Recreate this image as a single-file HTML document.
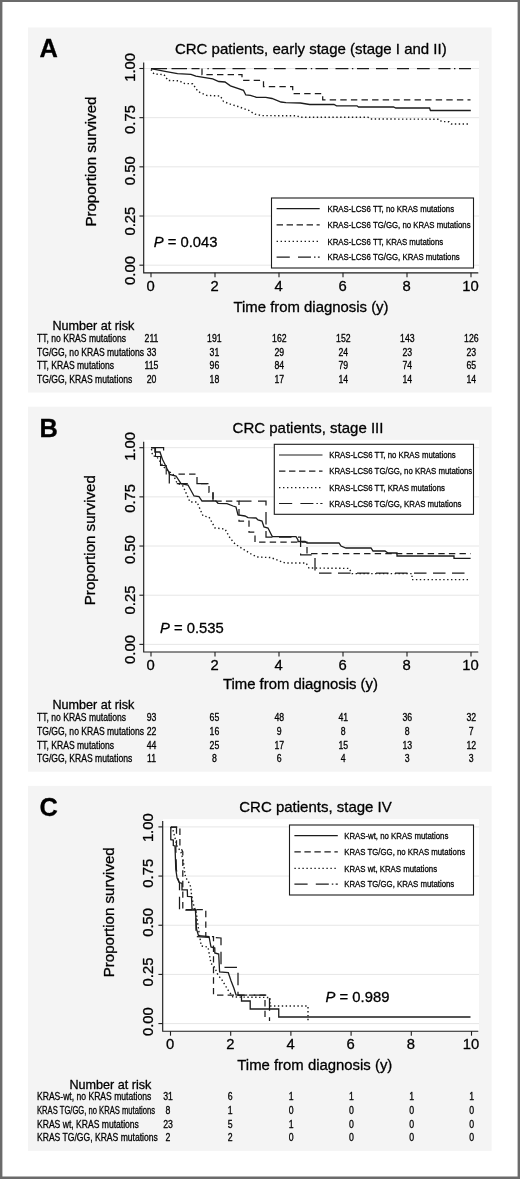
<!DOCTYPE html>
<html lang="en"><head><meta charset="utf-8"><title>Figure</title>
<style>html,body{margin:0;padding:0;background:#fff}body{width:520px;height:1179px;overflow:hidden}svg{display:block}text{fill:#000;stroke:#000;stroke-width:0.3px;stroke-linejoin:round}</style>
</head><body>
<svg width="520" height="1179" viewBox="0 0 520 1179" font-family='"Liberation Sans", sans-serif'>
<rect x="0" y="0" width="520" height="1179" fill="#fff"/>
<path d="M0,0 H520 V1179 H0 Z M2.4,2.1 V1176.4 H517.6 V2.1 Z" fill="#6b6b6b" fill-rule="evenodd"/>
<g id="panel-A">
<rect x="28" y="27.5" width="463.6" height="365" fill="#f4f4f4"/>
<rect x="144" y="60.7" width="335" height="212.1" fill="#fff"/>
<path d="M144,68.5 H479" stroke="#e6e6e6" stroke-width="1"/>
<path d="M144,117.67 H479" stroke="#e6e6e6" stroke-width="1"/>
<path d="M144,166.84 H479" stroke="#e6e6e6" stroke-width="1"/>
<path d="M144,216.01 H479" stroke="#e6e6e6" stroke-width="1"/>
<path d="M144,265.18 H479" stroke="#e6e6e6" stroke-width="1"/>
<path d="M151,68.5 H167 M171.5,68.5 H187 M191.5,68.5 H199.5 M207.4,68.5 H208.8 M212.5,68.5 H225.5 M232.5,68.5 H245.5 M254,68.5 H266.5 M274,68.5 H285.7 M295.3,68.5 H307 M310.8,68.5 H312.2 M315.5,68.5 H328 M335.5,68.5 H348.4 M351.9,68.5 H353.3 M357,68.5 H369 M376,68.5 H388 M397,68.5 H409 M417,68.5 H429.7 M438.4,68.5 H450.5 M454,68.5 H455.4 M459,68.5 H471" fill="none" stroke="#1c1c1c" stroke-width="1.25"/>
<path d="M202,68.5 V74.7 H242 V80.4 H263.5 V86.5 H292.7 V93.5 H322.7 V99.8 H470.5 V99.8" fill="none" stroke="#1c1c1c" stroke-width="1.25" stroke-dasharray="6.4 4.2"/>
<path d="M151,68.7 L165,71.3 L177.5,73.7 L191,74.3 L195.8,76.2 L212.7,78.8 L218.8,81.5 L225,82 L230.4,85.8 L243.5,90.4 L245.8,95 L250.4,95.3 L256.5,97.3 L265.8,97.3 L272,98.5 L281,102 L285.8,102.7 L300.4,103 L309.6,104.5 L334,104.5 L336.5,105.8 L357,105.8 L358.5,107 L393.5,107 L395.8,108 L429.6,108 L430.4,110.5 L470.8,110.5" fill="none" stroke="#1c1c1c" stroke-width="1.3"/>
<path d="M151,69.5 L154,74 L164,74.6 L168,80.5 L179.6,80.8 L183.5,83.4 L192.7,83.8 L198,91.5 L206.5,95.4 L220.4,96 L223.5,101.5 L230.4,104.2 L238,106.5 L248.8,110.4 L255,114.2 L262,115.6 L297,115.8 L300.4,117.3 L368,117.3 L370.4,119 L439.2,119.2 L441.5,121.5 L449,121.8 L451.5,124 L469.5,124" fill="none" stroke="#1c1c1c" stroke-width="1.4" stroke-dasharray="1.4 2.5"/>
<rect x="271.5" y="198" width="202" height="70" fill="#fff" stroke="#1c1c1c" stroke-width="1.1"/>
<path d="M276.6,208.7 H319.7" stroke="#1c1c1c" stroke-width="1.2"/>
<text transform="translate(327.5,211.9) scale(0.79,1)" font-size="9.9" text-anchor="start">KRAS-LCS6 TT, no KRAS mutations</text>
<path d="M276.6,224.8 H319.7" stroke="#1c1c1c" stroke-width="1.2" stroke-dasharray="6.4 3.6"/>
<text transform="translate(327.5,228) scale(0.79,1)" font-size="9.9" text-anchor="start">KRAS-LCS6 TG/GG, no KRAS mutations</text>
<path d="M276.6,241.3 H319.7" stroke="#1c1c1c" stroke-width="1.2" stroke-dasharray="1.4 2.6"/>
<text transform="translate(327.5,244.5) scale(0.79,1)" font-size="9.9" text-anchor="start">KRAS-LCS6 TT, KRAS mutations</text>
<path d="M276.6,257.2 h13.2 m8.2,0 h13 m3,0 h1.5 m2.4,0 h1.8" stroke="#1c1c1c" stroke-width="1.2"/>
<text transform="translate(327.5,260.4) scale(0.79,1)" font-size="9.9" text-anchor="start">KRAS-LCS6 TG/GG, KRAS mutations</text>
<path d="M143.7,62.6 V272.8 H478.3" fill="none" stroke="#1c1c1c" stroke-width="1.15"/>
<path d="M139.4,68.5 H143.7" stroke="#1c1c1c" stroke-width="1.1"/>
<path d="M139.4,117.67 H143.7" stroke="#1c1c1c" stroke-width="1.1"/>
<path d="M139.4,166.84 H143.7" stroke="#1c1c1c" stroke-width="1.1"/>
<path d="M139.4,216.01 H143.7" stroke="#1c1c1c" stroke-width="1.1"/>
<path d="M139.4,265.18 H143.7" stroke="#1c1c1c" stroke-width="1.1"/>
<path d="M151,272.8 V277.3" stroke="#1c1c1c" stroke-width="1.1"/>
<text transform="translate(150.6,290.8)" font-size="14.8" text-anchor="middle">0</text>
<path d="M215,272.8 V277.3" stroke="#1c1c1c" stroke-width="1.1"/>
<text transform="translate(214.6,290.8)" font-size="14.8" text-anchor="middle">2</text>
<path d="M279,272.8 V277.3" stroke="#1c1c1c" stroke-width="1.1"/>
<text transform="translate(278.6,290.8)" font-size="14.8" text-anchor="middle">4</text>
<path d="M343,272.8 V277.3" stroke="#1c1c1c" stroke-width="1.1"/>
<text transform="translate(342.6,290.8)" font-size="14.8" text-anchor="middle">6</text>
<path d="M407,272.8 V277.3" stroke="#1c1c1c" stroke-width="1.1"/>
<text transform="translate(406.6,290.8)" font-size="14.8" text-anchor="middle">8</text>
<path d="M471,272.8 V277.3" stroke="#1c1c1c" stroke-width="1.1"/>
<text transform="translate(470.6,290.8)" font-size="14.8" text-anchor="middle">10</text>
<text transform="translate(135.4,67.4) rotate(-90)" font-size="14.8" text-anchor="middle">1.00</text>
<text transform="translate(135.4,119.47) rotate(-90)" font-size="14.8" text-anchor="middle">0.75</text>
<text transform="translate(135.4,170.74) rotate(-90)" font-size="14.8" text-anchor="middle">0.50</text>
<text transform="translate(135.4,221.11) rotate(-90)" font-size="14.8" text-anchor="middle">0.25</text>
<text transform="translate(135.4,270.48) rotate(-90)" font-size="14.8" text-anchor="middle">0.00</text>
<text transform="translate(95.8,161.6) rotate(-90)" font-size="15.1" text-anchor="middle">Proportion survived</text>
<text transform="translate(311,311.9)" font-size="14.9" text-anchor="middle">Time from diagnosis (y)</text>
<text transform="translate(310.8,53.9)" font-size="15" text-anchor="middle">CRC patients, early stage (stage I and II)</text>
<text transform="translate(39.6,57.3)" font-size="25.4" text-anchor="start" font-weight="bold">A</text>
<text transform="translate(153.7,247)" font-size="14.8" text-anchor="start"><tspan font-style="italic">P</tspan> = 0.043</text>
<text transform="translate(52.5,330.2)" font-size="12.6" text-anchor="start">Number at risk</text>
<text transform="translate(37,342) scale(0.81,1)" font-size="10.6" text-anchor="start">TT, no KRAS mutations</text>
<text transform="translate(151.5,342) scale(0.84,1)" font-size="10.4" text-anchor="middle">211</text>
<text transform="translate(214.4,342) scale(0.84,1)" font-size="10.4" text-anchor="middle">191</text>
<text transform="translate(279.3,342) scale(0.84,1)" font-size="10.4" text-anchor="middle">162</text>
<text transform="translate(343.3,342) scale(0.84,1)" font-size="10.4" text-anchor="middle">152</text>
<text transform="translate(407.3,342) scale(0.84,1)" font-size="10.4" text-anchor="middle">143</text>
<text transform="translate(471.3,342) scale(0.84,1)" font-size="10.4" text-anchor="middle">126</text>
<text transform="translate(37,355.7) scale(0.81,1)" font-size="10.6" text-anchor="start">TG/GG, no KRAS mutations</text>
<text transform="translate(151.5,355.7) scale(0.84,1)" font-size="10.4" text-anchor="middle">33</text>
<text transform="translate(214.4,355.7) scale(0.84,1)" font-size="10.4" text-anchor="middle">31</text>
<text transform="translate(279.3,355.7) scale(0.84,1)" font-size="10.4" text-anchor="middle">29</text>
<text transform="translate(343.3,355.7) scale(0.84,1)" font-size="10.4" text-anchor="middle">24</text>
<text transform="translate(407.3,355.7) scale(0.84,1)" font-size="10.4" text-anchor="middle">23</text>
<text transform="translate(471.3,355.7) scale(0.84,1)" font-size="10.4" text-anchor="middle">23</text>
<text transform="translate(37,369.4) scale(0.81,1)" font-size="10.6" text-anchor="start">TT, KRAS mutations</text>
<text transform="translate(151.5,369.4) scale(0.84,1)" font-size="10.4" text-anchor="middle">115</text>
<text transform="translate(214.4,369.4) scale(0.84,1)" font-size="10.4" text-anchor="middle">96</text>
<text transform="translate(279.3,369.4) scale(0.84,1)" font-size="10.4" text-anchor="middle">84</text>
<text transform="translate(343.3,369.4) scale(0.84,1)" font-size="10.4" text-anchor="middle">79</text>
<text transform="translate(407.3,369.4) scale(0.84,1)" font-size="10.4" text-anchor="middle">74</text>
<text transform="translate(471.3,369.4) scale(0.84,1)" font-size="10.4" text-anchor="middle">65</text>
<text transform="translate(37,383) scale(0.81,1)" font-size="10.6" text-anchor="start">TG/GG, KRAS mutations</text>
<text transform="translate(151.5,383) scale(0.84,1)" font-size="10.4" text-anchor="middle">20</text>
<text transform="translate(214.4,383) scale(0.84,1)" font-size="10.4" text-anchor="middle">18</text>
<text transform="translate(279.3,383) scale(0.84,1)" font-size="10.4" text-anchor="middle">17</text>
<text transform="translate(343.3,383) scale(0.84,1)" font-size="10.4" text-anchor="middle">14</text>
<text transform="translate(407.3,383) scale(0.84,1)" font-size="10.4" text-anchor="middle">14</text>
<text transform="translate(471.3,383) scale(0.84,1)" font-size="10.4" text-anchor="middle">14</text>
</g>
<g id="panel-B">
<rect x="28" y="406.7" width="463.6" height="365" fill="#f4f4f4"/>
<rect x="144" y="439.9" width="335" height="212.1" fill="#fff"/>
<path d="M144,447.7 H479" stroke="#e6e6e6" stroke-width="1"/>
<path d="M144,496.87 H479" stroke="#e6e6e6" stroke-width="1"/>
<path d="M144,546.04 H479" stroke="#e6e6e6" stroke-width="1"/>
<path d="M144,595.21 H479" stroke="#e6e6e6" stroke-width="1"/>
<path d="M144,644.38 H479" stroke="#e6e6e6" stroke-width="1"/>
<path d="M151,447.6 L154.9,447.6 L154.9,452 L160,452 L161,455 L162.4,459.3 L165.3,465 L167,468.5 L168.8,472 L169.6,474.5 L176,476 L181,483.6 L188,485 L194,496 L199,496.6 L202,501 L216,501 L218,503.3 L227,503.6 L233,506 L236,507 L238,515 L245,516 L248,517.6 L256,518 L258,520 L262,521 L264,527 L268,528 L272,536 L273,536.6 L296,536.6 L298,540 L298,541.5 L305,541.5 L307,543 L339,543 L341,546 L346,548 L371,548 L373,551 L385,551 L388,553 L397,553 L397,556 L454,556 L454,558.4 L470.6,558.4" fill="none" stroke="#1c1c1c" stroke-width="1.3"/>
<path d="M151,447.6 L155.5,447.6 L155.5,456.5 L160.5,456.5 L160.5,465.5 L166.2,465.5 L166.2,474.4" fill="none" stroke="#1c1c1c" stroke-width="1.1"/>
<path d="M178.5,474.2 L197,474.2 L197,483.6 L209,483.6 L209,492.4 L213,492.4 L213,501 L239,501 L239,521 L249,521 L249,532 L255,532 L255,542 L307,542 L307,553.6 L470.6,553.6" fill="none" stroke="#1c1c1c" stroke-width="1.25" stroke-dasharray="6.4 4.2"/>
<path d="M151,447.6 H163.6 V450.5 M169.3,471.5 V483.6 M176.8,483.6 H187.8 M196.4,483.6 H208.5 M213,492 V501" fill="none" stroke="#1c1c1c" stroke-width="1.25"/>
<path d="M239,501 L266,501 L266,537 L300.6,537 L300.6,554.8 L315,554.8 L315,573 L470.6,573" fill="none" stroke="#1c1c1c" stroke-width="1.25" stroke-dasharray="12.5 6.5"/>
<path d="M151.5,449 L152.5,455.5 L157,457 L159,460 L163,466 L168,471 L173,474 L177,483 L183,486 L190,502 L197,502 L203,516 L209,517 L215,528 L225,529 L230,538 L235,544 L243,549 L251,554 L257,557 L271,557.6 L285,563 L306,563 L309,568 L349,568.4 L352,573.6 L412,573.6 L412,579.6 L470,579.6" fill="none" stroke="#1c1c1c" stroke-width="1.4" stroke-dasharray="1.4 2.5"/>
<rect x="274.3" y="444.3" width="199.2" height="70" fill="#fff" stroke="#1c1c1c" stroke-width="1.1"/>
<path d="M279,455 H322.5" stroke="#1c1c1c" stroke-width="1.2"/>
<text transform="translate(329.2,458.2) scale(0.79,1)" font-size="9.9" text-anchor="start">KRAS-LCS6 TT, no KRAS mutations</text>
<path d="M279,471.1 H322.5" stroke="#1c1c1c" stroke-width="1.2" stroke-dasharray="6.4 3.6"/>
<text transform="translate(329.2,474.3) scale(0.79,1)" font-size="9.9" text-anchor="start">KRAS-LCS6 TG/GG, no KRAS mutations</text>
<path d="M279,487.6 H322.5" stroke="#1c1c1c" stroke-width="1.2" stroke-dasharray="1.4 2.6"/>
<text transform="translate(329.2,490.8) scale(0.79,1)" font-size="9.9" text-anchor="start">KRAS-LCS6 TT, KRAS mutations</text>
<path d="M279,503.5 h13.2 m8.2,0 h13 m3,0 h1.5 m2.4,0 h2.2" stroke="#1c1c1c" stroke-width="1.2"/>
<text transform="translate(329.2,506.7) scale(0.79,1)" font-size="9.9" text-anchor="start">KRAS-LCS6 TG/GG, KRAS mutations</text>
<path d="M143.7,441.8 V652 H478.3" fill="none" stroke="#1c1c1c" stroke-width="1.15"/>
<path d="M139.4,447.7 H143.7" stroke="#1c1c1c" stroke-width="1.1"/>
<path d="M139.4,496.87 H143.7" stroke="#1c1c1c" stroke-width="1.1"/>
<path d="M139.4,546.04 H143.7" stroke="#1c1c1c" stroke-width="1.1"/>
<path d="M139.4,595.21 H143.7" stroke="#1c1c1c" stroke-width="1.1"/>
<path d="M139.4,644.38 H143.7" stroke="#1c1c1c" stroke-width="1.1"/>
<path d="M151,652 V656.5" stroke="#1c1c1c" stroke-width="1.1"/>
<text transform="translate(150.6,670)" font-size="14.8" text-anchor="middle">0</text>
<path d="M215,652 V656.5" stroke="#1c1c1c" stroke-width="1.1"/>
<text transform="translate(214.6,670)" font-size="14.8" text-anchor="middle">2</text>
<path d="M279,652 V656.5" stroke="#1c1c1c" stroke-width="1.1"/>
<text transform="translate(278.6,670)" font-size="14.8" text-anchor="middle">4</text>
<path d="M343,652 V656.5" stroke="#1c1c1c" stroke-width="1.1"/>
<text transform="translate(342.6,670)" font-size="14.8" text-anchor="middle">6</text>
<path d="M407,652 V656.5" stroke="#1c1c1c" stroke-width="1.1"/>
<text transform="translate(406.6,670)" font-size="14.8" text-anchor="middle">8</text>
<path d="M471,652 V656.5" stroke="#1c1c1c" stroke-width="1.1"/>
<text transform="translate(470.6,670)" font-size="14.8" text-anchor="middle">10</text>
<text transform="translate(135.4,446.4) rotate(-90)" font-size="14.8" text-anchor="middle">1.00</text>
<text transform="translate(135.4,498.37) rotate(-90)" font-size="14.8" text-anchor="middle">0.75</text>
<text transform="translate(135.4,549.64) rotate(-90)" font-size="14.8" text-anchor="middle">0.50</text>
<text transform="translate(135.4,600.01) rotate(-90)" font-size="14.8" text-anchor="middle">0.25</text>
<text transform="translate(135.4,649.48) rotate(-90)" font-size="14.8" text-anchor="middle">0.00</text>
<text transform="translate(95.3,540.2) rotate(-90)" font-size="15.1" text-anchor="middle">Proportion survived</text>
<text transform="translate(300.4,688.6)" font-size="14.9" text-anchor="middle">Time from diagnosis (y)</text>
<text transform="translate(308,433.1)" font-size="15" text-anchor="middle">CRC patients, stage III</text>
<text transform="translate(39.6,436.85)" font-size="25.4" text-anchor="start" font-weight="bold">B</text>
<text transform="translate(160,633.2)" font-size="14.8" text-anchor="start"><tspan font-style="italic">P</tspan> = 0.535</text>
<text transform="translate(52.5,709.4)" font-size="12.6" text-anchor="start">Number at risk</text>
<text transform="translate(37,721.2) scale(0.81,1)" font-size="10.6" text-anchor="start">TT, no KRAS mutations</text>
<text transform="translate(151.5,721.2) scale(0.84,1)" font-size="10.4" text-anchor="middle">93</text>
<text transform="translate(214.4,721.2) scale(0.84,1)" font-size="10.4" text-anchor="middle">65</text>
<text transform="translate(279.3,721.2) scale(0.84,1)" font-size="10.4" text-anchor="middle">48</text>
<text transform="translate(343.3,721.2) scale(0.84,1)" font-size="10.4" text-anchor="middle">41</text>
<text transform="translate(407.3,721.2) scale(0.84,1)" font-size="10.4" text-anchor="middle">36</text>
<text transform="translate(471.3,721.2) scale(0.84,1)" font-size="10.4" text-anchor="middle">32</text>
<text transform="translate(37,734.9) scale(0.81,1)" font-size="10.6" text-anchor="start">TG/GG, no KRAS mutations</text>
<text transform="translate(151.5,734.9) scale(0.84,1)" font-size="10.4" text-anchor="middle">22</text>
<text transform="translate(214.4,734.9) scale(0.84,1)" font-size="10.4" text-anchor="middle">16</text>
<text transform="translate(279.3,734.9) scale(0.84,1)" font-size="10.4" text-anchor="middle">9</text>
<text transform="translate(343.3,734.9) scale(0.84,1)" font-size="10.4" text-anchor="middle">8</text>
<text transform="translate(407.3,734.9) scale(0.84,1)" font-size="10.4" text-anchor="middle">8</text>
<text transform="translate(471.3,734.9) scale(0.84,1)" font-size="10.4" text-anchor="middle">7</text>
<text transform="translate(37,748.6) scale(0.81,1)" font-size="10.6" text-anchor="start">TT, KRAS mutations</text>
<text transform="translate(151.5,748.6) scale(0.84,1)" font-size="10.4" text-anchor="middle">44</text>
<text transform="translate(214.4,748.6) scale(0.84,1)" font-size="10.4" text-anchor="middle">25</text>
<text transform="translate(279.3,748.6) scale(0.84,1)" font-size="10.4" text-anchor="middle">17</text>
<text transform="translate(343.3,748.6) scale(0.84,1)" font-size="10.4" text-anchor="middle">15</text>
<text transform="translate(407.3,748.6) scale(0.84,1)" font-size="10.4" text-anchor="middle">13</text>
<text transform="translate(471.3,748.6) scale(0.84,1)" font-size="10.4" text-anchor="middle">12</text>
<text transform="translate(37,762.2) scale(0.81,1)" font-size="10.6" text-anchor="start">TG/GG, KRAS mutations</text>
<text transform="translate(151.5,762.2) scale(0.84,1)" font-size="10.4" text-anchor="middle">11</text>
<text transform="translate(214.4,762.2) scale(0.84,1)" font-size="10.4" text-anchor="middle">8</text>
<text transform="translate(279.3,762.2) scale(0.84,1)" font-size="10.4" text-anchor="middle">6</text>
<text transform="translate(343.3,762.2) scale(0.84,1)" font-size="10.4" text-anchor="middle">4</text>
<text transform="translate(407.3,762.2) scale(0.84,1)" font-size="10.4" text-anchor="middle">3</text>
<text transform="translate(471.3,762.2) scale(0.84,1)" font-size="10.4" text-anchor="middle">3</text>
</g>
<g id="panel-C">
<rect x="28" y="785.9" width="463.6" height="365" fill="#f4f4f4"/>
<rect x="163" y="819.1" width="316" height="212.1" fill="#fff"/>
<path d="M163,826.9 H479" stroke="#e6e6e6" stroke-width="1"/>
<path d="M163,876.07 H479" stroke="#e6e6e6" stroke-width="1"/>
<path d="M163,925.24 H479" stroke="#e6e6e6" stroke-width="1"/>
<path d="M163,974.41 H479" stroke="#e6e6e6" stroke-width="1"/>
<path d="M163,1023.58 H479" stroke="#e6e6e6" stroke-width="1"/>
<path d="M170.8,827 L170.8,839.6 L173.3,840 L173.3,845.5 L175,846 L175.8,869.5 L177.1,878 L179.2,882.5 L182,883.3 L182,889.8 L187.3,889.8 L187.5,896.3 L191.5,896.5 L192,909 L195.4,909.6 L196.5,929 L198.5,935.6 L209,936.5 L211,947 L214.8,948 L214.8,953 L218.7,954 L219.6,972 L228.3,972.7 L231,980.8 L234,988.5 L236,995 L241.5,995.5 L241.5,1001 L250.2,1001 L250.2,1009 L278.75,1009 L278.75,1017 L470.5,1017" fill="none" stroke="#1c1c1c" stroke-width="1.3"/>
<path d="M170.8,827 L179.9,827 L179.9,846 L182.8,852 L182.8,909.6 L205.8,909.6 L205.8,936.5 L213.5,936.5 L213.5,995 L265,995 L265,1021" fill="none" stroke="#1c1c1c" stroke-width="1.25" stroke-dasharray="6.4 4.2"/>
<path d="M170.8,827 L176.5,827 L176.5,844 L175.8,848 L176.4,869.5 L177.7,878 L179.5,883 L179.5,910 L196,910 L196,936.5 L221,938 L221,967.3 L238,967.3 L238,995 L269.5,995 L269.5,1021" fill="none" stroke="#1c1c1c" stroke-width="1.25" stroke-dasharray="12.5 6.5"/>
<path d="M170.8,827 L173,830 L175,838 L177,846 L181,852 L183.5,862 L184.5,871 L185.7,878 L187.7,880 L190.8,887 L191.5,895 L193,903 L196.5,914 L198.5,929 L201.3,946 L208,947 L211,963.5 L214,966 L218,975 L222,980 L228,990 L233,997 L270,997.5 L270,1006 L308,1006 L308,1021" fill="none" stroke="#1c1c1c" stroke-width="1.4" stroke-dasharray="1.4 2.5"/>
<rect x="289.5" y="825" width="184" height="70" fill="#fff" stroke="#1c1c1c" stroke-width="1.1"/>
<path d="M294.4,835.7 H337.8" stroke="#1c1c1c" stroke-width="1.2"/>
<text transform="translate(344.2,838.9) scale(0.79,1)" font-size="9.9" text-anchor="start">KRAS-wt, no KRAS mutations</text>
<path d="M294.4,851.8 H337.8" stroke="#1c1c1c" stroke-width="1.2" stroke-dasharray="6.4 3.6"/>
<text transform="translate(344.2,855) scale(0.79,1)" font-size="9.9" text-anchor="start">KRAS TG/GG, no KRAS mutations</text>
<path d="M294.4,868.3 H337.8" stroke="#1c1c1c" stroke-width="1.2" stroke-dasharray="1.4 2.6"/>
<text transform="translate(344.2,871.5) scale(0.79,1)" font-size="9.9" text-anchor="start">KRAS wt, KRAS mutations</text>
<path d="M294.4,884.2 h13.2 m8.2,0 h13 m3,0 h1.5 m2.4,0 h2.1" stroke="#1c1c1c" stroke-width="1.2"/>
<text transform="translate(344.2,887.4) scale(0.79,1)" font-size="9.9" text-anchor="start">KRAS TG/GG, KRAS mutations</text>
<path d="M162.7,821 V1031.2 H478.3" fill="none" stroke="#1c1c1c" stroke-width="1.15"/>
<path d="M158.4,826.9 H162.7" stroke="#1c1c1c" stroke-width="1.1"/>
<path d="M158.4,876.07 H162.7" stroke="#1c1c1c" stroke-width="1.1"/>
<path d="M158.4,925.24 H162.7" stroke="#1c1c1c" stroke-width="1.1"/>
<path d="M158.4,974.41 H162.7" stroke="#1c1c1c" stroke-width="1.1"/>
<path d="M158.4,1023.58 H162.7" stroke="#1c1c1c" stroke-width="1.1"/>
<path d="M170.5,1031.2 V1035.7" stroke="#1c1c1c" stroke-width="1.1"/>
<text transform="translate(170.1,1049.2)" font-size="14.8" text-anchor="middle">0</text>
<path d="M230.7,1031.2 V1035.7" stroke="#1c1c1c" stroke-width="1.1"/>
<text transform="translate(230.3,1049.2)" font-size="14.8" text-anchor="middle">2</text>
<path d="M290.9,1031.2 V1035.7" stroke="#1c1c1c" stroke-width="1.1"/>
<text transform="translate(290.5,1049.2)" font-size="14.8" text-anchor="middle">4</text>
<path d="M351.1,1031.2 V1035.7" stroke="#1c1c1c" stroke-width="1.1"/>
<text transform="translate(350.7,1049.2)" font-size="14.8" text-anchor="middle">6</text>
<path d="M411.3,1031.2 V1035.7" stroke="#1c1c1c" stroke-width="1.1"/>
<text transform="translate(410.9,1049.2)" font-size="14.8" text-anchor="middle">8</text>
<path d="M471.5,1031.2 V1035.7" stroke="#1c1c1c" stroke-width="1.1"/>
<text transform="translate(471.1,1049.2)" font-size="14.8" text-anchor="middle">10</text>
<text transform="translate(153.4,827.7) rotate(-90)" font-size="14.8" text-anchor="middle">1.00</text>
<text transform="translate(153.4,873.27) rotate(-90)" font-size="14.8" text-anchor="middle">0.75</text>
<text transform="translate(153.4,922.44) rotate(-90)" font-size="14.8" text-anchor="middle">0.50</text>
<text transform="translate(153.4,972.01) rotate(-90)" font-size="14.8" text-anchor="middle">0.25</text>
<text transform="translate(153.4,1021.68) rotate(-90)" font-size="14.8" text-anchor="middle">0.00</text>
<text transform="translate(113.8,912.3) rotate(-90)" font-size="15.1" text-anchor="middle">Proportion survived</text>
<text transform="translate(314.8,1070.3)" font-size="14.9" text-anchor="middle">Time from diagnosis (y)</text>
<text transform="translate(315.5,812.3)" font-size="15" text-anchor="middle">CRC patients, stage IV</text>
<text transform="translate(39.6,816.4)" font-size="25.4" text-anchor="start" font-weight="bold">C</text>
<text transform="translate(325.6,1002.2)" font-size="14.8" text-anchor="start"><tspan font-style="italic">P</tspan> = 0.989</text>
<text transform="translate(69.5,1088.6)" font-size="12.6" text-anchor="start">Number at risk</text>
<text transform="translate(37,1100.4) scale(0.81,1)" font-size="10.6" text-anchor="start">KRAS-wt, no KRAS mutations</text>
<text transform="translate(168,1100.4) scale(0.84,1)" font-size="10.4" text-anchor="middle">31</text>
<text transform="translate(230.1,1100.4) scale(0.84,1)" font-size="10.4" text-anchor="middle">6</text>
<text transform="translate(291.2,1100.4) scale(0.84,1)" font-size="10.4" text-anchor="middle">1</text>
<text transform="translate(351.4,1100.4) scale(0.84,1)" font-size="10.4" text-anchor="middle">1</text>
<text transform="translate(411.6,1100.4) scale(0.84,1)" font-size="10.4" text-anchor="middle">1</text>
<text transform="translate(471.8,1100.4) scale(0.84,1)" font-size="10.4" text-anchor="middle">1</text>
<text transform="translate(37,1114.1) scale(0.72,1)" font-size="10.6" text-anchor="start">KRAS TG/GG, no KRAS mutations</text>
<text transform="translate(168,1114.1) scale(0.84,1)" font-size="10.4" text-anchor="middle">8</text>
<text transform="translate(230.1,1114.1) scale(0.84,1)" font-size="10.4" text-anchor="middle">1</text>
<text transform="translate(291.2,1114.1) scale(0.84,1)" font-size="10.4" text-anchor="middle">0</text>
<text transform="translate(351.4,1114.1) scale(0.84,1)" font-size="10.4" text-anchor="middle">0</text>
<text transform="translate(411.6,1114.1) scale(0.84,1)" font-size="10.4" text-anchor="middle">0</text>
<text transform="translate(471.8,1114.1) scale(0.84,1)" font-size="10.4" text-anchor="middle">0</text>
<text transform="translate(37,1127.8) scale(0.81,1)" font-size="10.6" text-anchor="start">KRAS wt, KRAS mutations</text>
<text transform="translate(168,1127.8) scale(0.84,1)" font-size="10.4" text-anchor="middle">23</text>
<text transform="translate(230.1,1127.8) scale(0.84,1)" font-size="10.4" text-anchor="middle">5</text>
<text transform="translate(291.2,1127.8) scale(0.84,1)" font-size="10.4" text-anchor="middle">1</text>
<text transform="translate(351.4,1127.8) scale(0.84,1)" font-size="10.4" text-anchor="middle">0</text>
<text transform="translate(411.6,1127.8) scale(0.84,1)" font-size="10.4" text-anchor="middle">0</text>
<text transform="translate(471.8,1127.8) scale(0.84,1)" font-size="10.4" text-anchor="middle">0</text>
<text transform="translate(37,1141.4) scale(0.81,1)" font-size="10.6" text-anchor="start">KRAS TG/GG, KRAS mutations</text>
<text transform="translate(168,1141.4) scale(0.84,1)" font-size="10.4" text-anchor="middle">2</text>
<text transform="translate(230.1,1141.4) scale(0.84,1)" font-size="10.4" text-anchor="middle">2</text>
<text transform="translate(291.2,1141.4) scale(0.84,1)" font-size="10.4" text-anchor="middle">0</text>
<text transform="translate(351.4,1141.4) scale(0.84,1)" font-size="10.4" text-anchor="middle">0</text>
<text transform="translate(411.6,1141.4) scale(0.84,1)" font-size="10.4" text-anchor="middle">0</text>
<text transform="translate(471.8,1141.4) scale(0.84,1)" font-size="10.4" text-anchor="middle">0</text>
</g>
</svg>
</body></html>
